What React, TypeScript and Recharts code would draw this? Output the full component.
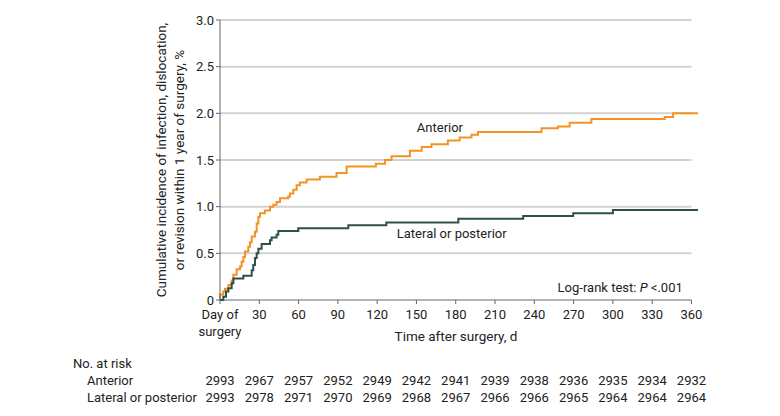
import React from 'react'
import { LineChart, Line, XAxis, YAxis, ReferenceLine, ReferenceDot } from 'recharts'

// Kaplan-Meier style step curves (day, cumulative %)
const anteriorDays = [
  0, 0, 2.5, 3.8, 6.4, 8.9, 10.2, 12.7, 15.3, 16.5, 17.8, 19.1, 21.6, 22.9, 24.2, 26.7, 28, 29.3, 30.5,
  34.3, 38.2, 40.7, 43.2, 45.8, 52.1, 53.4, 56, 58.5, 61, 66.1, 76.3, 89, 96.7, 119, 126, 131, 145,
  154, 161.5, 174, 183, 192, 197, 245.5, 258, 267, 283.6, 339.6, 346, 365,
]
const anteriorPct = [
  0, 0.06, 0.09, 0.12, 0.16, 0.21, 0.27, 0.33, 0.36, 0.41, 0.46, 0.52, 0.57, 0.62, 0.68, 0.73, 0.82, 0.89, 0.93,
  0.96, 1.0, 1.02, 1.05, 1.09, 1.11, 1.14, 1.18, 1.23, 1.26, 1.29, 1.32, 1.36, 1.43, 1.46, 1.5, 1.54, 1.6,
  1.64, 1.67, 1.71, 1.74, 1.77, 1.8, 1.84, 1.86, 1.9, 1.94, 1.96, 2.0, 2.0,
]
const lateralDays = [
  0, 2.5, 4.6, 6.4, 8.9, 10.2, 17.8, 24.2, 25.4, 26.7, 28, 29.3, 31.8, 38.2, 39.4, 43.2, 44.5, 59.8, 98,
  127, 182, 231.5, 269.7, 300, 365,
]
const lateralPct = [
  0, 0.036, 0.09, 0.125, 0.18, 0.23, 0.26, 0.32, 0.375, 0.45, 0.5, 0.55, 0.6, 0.64, 0.67, 0.7, 0.74, 0.77, 0.8,
  0.83, 0.87, 0.9, 0.93, 0.965, 0.965,
]

const xTicks = [0, 30, 60, 90, 120, 150, 180, 210, 240, 270, 300, 330, 360]
const yTicks = [0, 0.5, 1.0, 1.5, 2.0, 2.5, 3.0]
const gridValues = [0.5, 1.0, 1.5, 2.0, 2.5, 3.0]
const riskAnterior = [2993, 2967, 2957, 2952, 2949, 2942, 2941, 2939, 2938, 2936, 2935, 2934, 2932]
const riskLateral = [2993, 2978, 2971, 2970, 2969, 2968, 2967, 2966, 2966, 2965, 2964, 2964, 2964]

const anteriorData = anteriorDays.map((d, i) => ({ day: d, pct: anteriorPct[i] }))
const lateralData = lateralDays.map((d, i) => ({ day: d, pct: lateralPct[i] }))

const TEXT = '#222'
const AXIS = '#666'
const GRID = '#d2d2d2'
const ORANGE = '#F39324'
const GREEN = '#2E504C'

function XTick(props: any) {
  const { x, y, payload, index } = props
  const i = xTicks.indexOf(payload.value)
  return (
    <g fontSize={13} fill={TEXT}>
      {payload.value === 0 ? (
        <>
          <text x={x} y={y + 12.5} textAnchor="middle">Day of</text>
          <text x={x} y={y + 29.5} textAnchor="middle">surgery</text>
        </>
      ) : (
        <text x={x} y={y + 12.5} textAnchor="middle">{payload.value}</text>
      )}
      {index === 0 && (
        <>
          <text x={73} y={y + 62} textAnchor="start">No. at risk</text>
          <text x={87} y={y + 78.5} textAnchor="start">Anterior</text>
          <text x={87} y={y + 95.5} textAnchor="start">Lateral or posterior</text>
        </>
      )}
      <text x={x} y={y + 78.5} textAnchor="middle">{riskAnterior[i]}</text>
      <text x={x} y={y + 95.5} textAnchor="middle">{riskLateral[i]}</text>
    </g>
  )
}

function YTitle(props: any) {
  const { viewBox } = props
  const cy = viewBox.y + viewBox.height / 2
  return (
    <g fontSize={13.5} fill={TEXT}>
      <text x={161} y={cy} textAnchor="middle" dominantBaseline="central" transform={`rotate(-90 161 ${cy})`}>
        Cumulative incidence of infection, dislocation,
      </text>
      <text x={179} y={cy} textAnchor="middle" dominantBaseline="central" transform={`rotate(-90 179 ${cy})`}>
        or revision within 1 year of surgery, %
      </text>
    </g>
  )
}

const note = (text: React.ReactNode, anchor: 'start' | 'end') => (p: any) => (
  <text x={p.viewBox.x} y={p.viewBox.y} textAnchor={anchor} fontSize={13} fill={TEXT}>
    {text}
  </text>
)

export default function App() {
  return (
    <div style={{ position: 'absolute', left: 0, top: 0, width: 780, height: 416, background: '#fff', fontFamily: 'Roboto, sans-serif' }}>
      <LineChart width={780} height={416} margin={{ top: 20, right: 82, left: 160, bottom: 86 }}>
        {gridValues.map((v) => (
          <ReferenceLine
            key={v}
            segment={[{ x: 0, y: v }, { x: 360, y: v }]}
            stroke={GRID}
            strokeWidth={2}
            ifOverflow="extendDomain"
          />
        ))}
        <ReferenceLine segment={[{ x: 0, y: 0 }, { x: 360, y: 0 }]} stroke={AXIS} strokeWidth={1} />
        <XAxis
          dataKey="day"
          type="number"
          domain={[0, 365]}
          ticks={xTicks}
          interval={0}
          height={30}
          axisLine={false}
          tickLine={{ stroke: AXIS }}
          tickSize={4}
          tick={<XTick />}
          allowDuplicatedCategory={false}
          label={{ content: () => (
            <text x={456} y={341} textAnchor="middle" fontSize={13.5} fill={TEXT}>Time after surgery, d</text>
          ) }}
        />
        <YAxis
          type="number"
          domain={[0, 3]}
          ticks={yTicks}
          width={60}
          axisLine={{ stroke: AXIS }}
          tickLine={{ stroke: AXIS }}
          tickSize={4}
          tick={{ fontSize: 13, fill: TEXT }}
          tickFormatter={(v: number) => (v === 0 ? '0' : v.toFixed(1))}
          label={{ content: (p: any) => <YTitle {...p} /> }}
        />
        <Line data={anteriorData} dataKey="pct" type="stepAfter" stroke={ORANGE} strokeWidth={2} dot={false} isAnimationActive={false} />
        <Line data={lateralData} dataKey="pct" type="stepAfter" stroke={GREEN} strokeWidth={2} dot={false} isAnimationActive={false} />
        <ReferenceDot x={150.3} y={1.795} r={0} stroke="none" label={{ content: note('Anterior', 'start') }} />
        <ReferenceDot x={135} y={0.659} r={0} stroke="none" label={{ content: note('Lateral or posterior', 'start') }} />
        <ReferenceDot
          x={353.4}
          y={0.091}
          r={0}
          stroke="none"
          label={{ content: note(<>Log-rank test: <tspan fontStyle="italic">P</tspan> {'<'}.001</>, 'end') }}
        />
      </LineChart>
    </div>
  )
}
